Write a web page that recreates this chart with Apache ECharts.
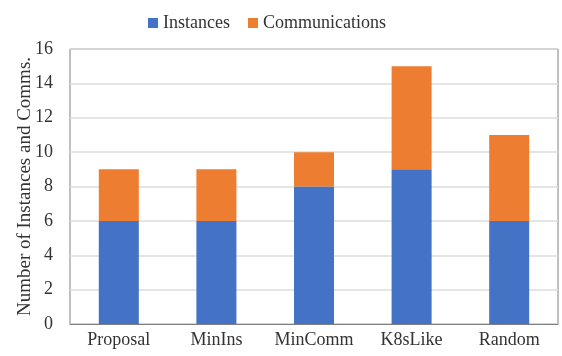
<!DOCTYPE html>
<html>
<head>
<meta charset="utf-8">
<script src="https://cdn.jsdelivr.net/npm/echarts@6/dist/echarts.min.js"></script>
<style>
  html, body { margin: 0; padding: 0; background: #fff; }
  #chart { width: 562px; height: 356px; }
</style>
</head>
<body>
<div id="chart"></div>
<script>
const categories = ["Proposal", "MinIns", "MinComm", "K8sLike", "Random"];
const instances = [6, 6, 8, 9, 6];
const communications = [3, 3, 2, 6, 5];

const font = "'Liberation Serif', 'Times New Roman', serif";

const chart = echarts.init(document.getElementById("chart"));

chart.setOption({
  animation: false,
  textStyle: { fontFamily: font },
  legend: {
    top: 9,
    left: 143,
    icon: "rect",
    itemWidth: 10,
    itemHeight: 10,
    itemGap: 18,
    itemTextGap: 3,
    textStyle: { fontFamily: font, fontSize: 18, color: "#333" },
    data: ["Instances", "Communications"],
  },
  grid: {
    left: 70,
    right: 4,
    top: 49,
    bottom: 32,
    outerBoundsMode: "none",
    show: true,
    borderColor: "#808080",
    borderWidth: 1,
  },
  xAxis: {
    type: "category",
    data: categories,
    axisTick: { show: false },
    axisLine: { lineStyle: { color: "#7f7f7f" } },
    axisLabel: { interval: 0, fontFamily: font, fontSize: 18, color: "#333", margin: 7 },
  },
  yAxis: {
    type: "value",
    min: 0,
    max: 16,
    interval: 2,
    name: "Number of Instances and Comms.",
    nameLocation: "middle",
    nameGap: 35,
    nameMoveOverlap: false,
    nameTextStyle: { fontFamily: font, fontSize: 19, color: "#333" },
    axisLine: { show: false },
    axisTick: { show: false },
    axisLabel: { fontFamily: font, fontSize: 18, color: "#333", margin: 17 },
    splitLine: { lineStyle: { color: "#dcdcdc", width: 1.5 } },
  },
  series: [
    {
      name: "Instances",
      type: "bar",
      stack: "total",
      barWidth: "41%",
      itemStyle: { color: "#4472C4" },
      data: instances,
    },
    {
      name: "Communications",
      type: "bar",
      stack: "total",
      barWidth: "41%",
      itemStyle: { color: "#ED7D31" },
      data: communications,
    },
  ],
});
</script>
</body>
</html>
